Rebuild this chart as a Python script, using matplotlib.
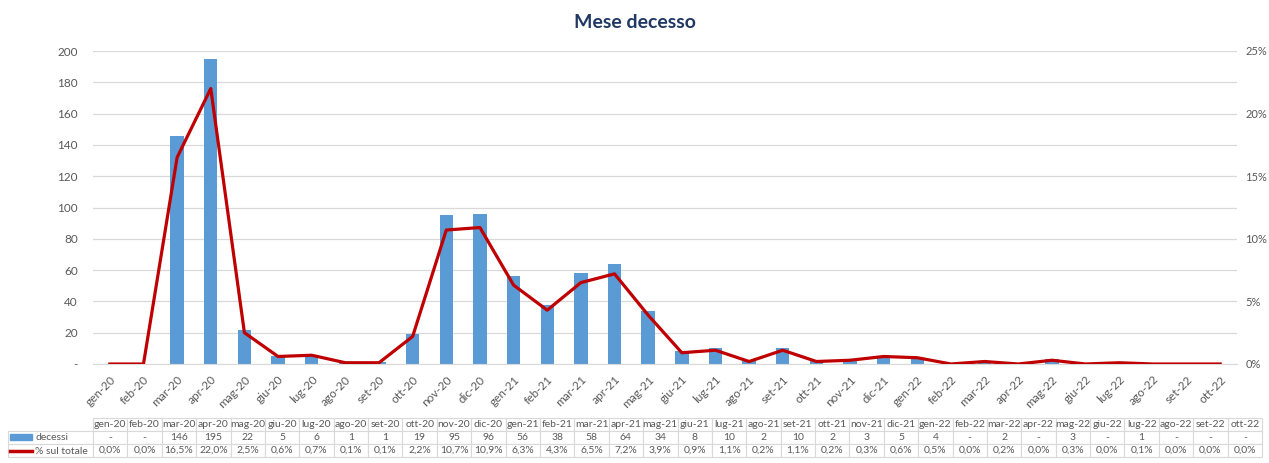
import matplotlib
matplotlib.use("Agg")
import matplotlib.pyplot as plt
from matplotlib.ticker import FuncFormatter, MultipleLocator
from matplotlib.patches import Rectangle
from matplotlib.lines import Line2D

plt.rcParams['font.family'] = ['Lato', 'DejaVu Sans']

# data
months = ['gen-20', 'feb-20', 'mar-20', 'apr-20', 'mag-20', 'giu-20', 'lug-20', 'ago-20', 'set-20',
          'ott-20', 'nov-20', 'dic-20', 'gen-21', 'feb-21', 'mar-21', 'apr-21', 'mag-21', 'giu-21',
          'lug-21', 'ago-21', 'set-21', 'ott-21', 'nov-21', 'dic-21', 'gen-22', 'feb-22', 'mar-22',
          'apr-22', 'mag-22', 'giu-22', 'lug-22', 'ago-22', 'set-22', 'ott-22']
decessi = [0, 0, 146, 195, 22, 5, 6, 1, 1, 19, 95, 96, 56, 38, 58, 64, 34, 8,
           10, 2, 10, 2, 3, 5, 4, 0, 2, 0, 3, 0, 1, 0, 0, 0]
perc = [0.0, 0.0, 16.5, 22.0, 2.5, 0.6, 0.7, 0.1, 0.1, 2.2, 10.7, 10.9, 6.3, 4.3, 6.5, 7.2, 3.9, 0.9,
        1.1, 0.2, 1.1, 0.2, 0.3, 0.6, 0.5, 0.0, 0.2, 0.0, 0.3, 0.0, 0.1, 0.0, 0.0, 0.0]

BLUE = '#5B9BD5'
RED = '#C00000'
GREY = '#595959'
GRID = '#D9D9D9'

W, H = 1269, 463
fig = plt.figure(figsize=(W / 100, H / 100), dpi=100)

ax = fig.add_axes([93 / W, 1 - 364 / H, (1237 - 93) / W, (364 - 51) / H])
x = list(range(len(months)))
ax.bar(x, decessi, width=0.4, color=BLUE, zorder=2)
ax.set_xlim(-0.5, len(months) - 0.5)
ax.set_ylim(0, 200)
ax.yaxis.set_major_locator(MultipleLocator(20))
ax.yaxis.set_major_formatter(FuncFormatter(lambda v, p: '-' if v == 0 else '%d' % v))
ax.grid(axis='y', color=GRID, lw=0.9, zorder=0)
ax.set_xticks(x)
ax.set_xticklabels(months, rotation=45, ha='right', rotation_mode='anchor')
for s in ['top', 'left', 'right']:
    ax.spines[s].set_visible(False)
ax.spines['bottom'].set_color(GRID)
ax.tick_params(axis='both', length=0, colors=GREY, labelsize=8.5)
ax.tick_params(axis='y', pad=11)
ax.tick_params(axis='x', pad=7)

ax2 = ax.twinx()
ax2.plot(x, [p / 100 for p in perc], color=RED, lw=2.3, zorder=3)
ax2.set_ylim(0, 0.25)
ax2.yaxis.set_major_locator(MultipleLocator(0.05))
ax2.yaxis.set_major_formatter(FuncFormatter(lambda v, p: '%d%%' % round(v * 100)))
for s in ax2.spines.values():
    s.set_visible(False)
ax2.tick_params(axis='y', length=0, colors=GREY, labelsize=8, pad=6)

fig.text(0.5, 1 - 22 / H, 'Mese decesso', ha='center', va='center',
         fontsize=14, fontweight='bold', color='#1F3864')

# data table
tab_ax = fig.add_axes([8 / W, 1 - 457 / H, (1262 - 8) / W, (457 - 418) / H])
tab_ax.axis('off')
rows = [[''] + months,
        [''] + ['-' if d == 0 else str(d) for d in decessi],
        [''] + [('%.1f%%' % p).replace('.', ',') for p in perc]]
lab_w = 85
col_w = (1262 - 93) / len(months)
total = lab_w + col_w * len(months)
widths = [lab_w / total] + [col_w / total] * len(months)
tbl = tab_ax.table(cellText=rows, colWidths=widths, bbox=[0, 0, 1, 1], cellLoc='center')
tbl.auto_set_font_size(False)
for (r, c), cell in tbl.get_celld().items():
    cell.set_edgecolor(GRID)
    cell.set_linewidth(0.8)
    cell.get_text().set_fontsize(7.5)
    cell.get_text().set_color(GREY)
    cell.PAD = 0.02
    if r == 0 and c == 0:
        cell.visible_edges = ''

fig.patches.append(Rectangle((10 / W, 1 - 440 / H), 22 / W, 6 / H, transform=fig.transFigure,
                             color=BLUE))
fig.lines.append(Line2D([10 / W, 32 / W], [1 - 451 / H, 1 - 451 / H], transform=fig.transFigure,
                        color=RED, lw=2.5))
fig.text(35 / W, 1 - 437 / H, 'decessi', ha='left', va='center', fontsize=7.5, color=GREY)
fig.text(35 / W, 1 - 451 / H, '% sul totale', ha='left', va='center', fontsize=7.5, color=GREY)

fig.savefig('out.png', dpi=100)
